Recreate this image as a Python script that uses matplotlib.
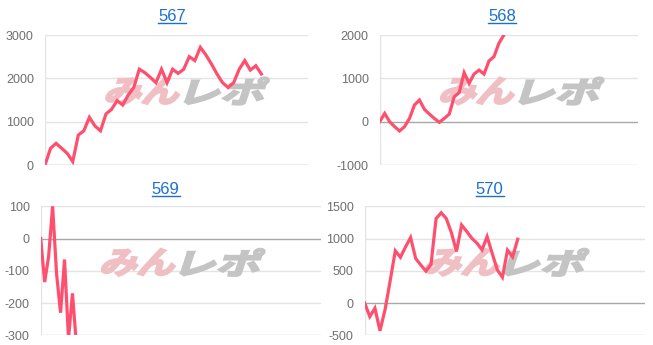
import numpy as np
import matplotlib
matplotlib.use("Agg")
import matplotlib.pyplot as plt
from matplotlib.textpath import TextPath
from matplotlib.font_manager import FontProperties
from matplotlib.patches import PathPatch
from matplotlib.transforms import Affine2D
from matplotlib.lines import Line2D

plt.rcParams['font.family'] = ['Liberation Sans', 'DejaVu Sans']

# ---- data (差枚推移) ----
titles = ['567', '568', '569', '570']

v567 = [0, 385, 500, 385, 270, 80, 690, 790, 1100, 900, 790, 1180, 1285, 1485,
        1385, 1615, 1790, 2210, 2130, 2020, 1900, 2210, 1900, 2210, 2115, 2210,
        2500, 2410, 2715, 2540, 2330, 2100, 1900, 1790, 1900, 2210, 2410, 2190,
        2290, 2100]
v568 = [0, 190, 0, -115, -215, -115, 75, 385, 500, 285, 175, 75, -15, 75, 175,
        575, 670, 1130, 885, 1100, 1190, 1100, 1400, 1500, 1810, 2000, 2250]
v569 = [0, -135, -55, 100, -110, -230, -65, -310, -170, -330]
v570 = [0, -210, -80, -430, -100, 350, 810, 710, 870, 1015, 690, 590, 495, 600,
        1310, 1400, 1310, 1090, 800, 1210, 1110, 1005, 930, 825, 1030, 770, 515,
        400, 820, 715, 990]
series = [v567, v568, v569, v570]

yticks = [[0, 1000, 2000, 3000],
          [-1000, 0, 1000, 2000],
          [-300, -200, -100, 0, 100],
          [-500, 0, 500, 1000, 1500]]
xmax = [47.4, 52.0, 70.5, 54.9]

# ---- layout (pixels) ----
W, H = 653, 345
boxes = [(45, 35, 263, 130), (379.7, 35, 258.3, 130),
         (40.7, 206.3, 280, 129), (364.7, 206.3, 280, 129)]
title_pos = [(172, 21), (502, 21), (165.7, 193.5), (489.7, 193.5)]

line_color = '#ff4f6e'
link_color = '#1a6fd0'

fig = plt.figure(figsize=(W / 100, H / 100), dpi=100)
pix = Affine2D().scale(1 / W, 1 / H) + fig.transFigure

fp = FontProperties(family='Noto Sans CJK JP', weight='bold')
wm_parts = [('みん', '#efbfc3', 0, 72), ('レポ', '#c4c4c4', 80, 77)]


def watermark(ax, left, top):
    for txt, col, dx, w in wm_parts:
        p = TextPath((0, 0), txt, size=1, prop=fp)
        ext = p.get_extents()
        sx = w / ext.width
        sy = 27 / ext.height
        tr = (Affine2D().translate(-ext.x0, -ext.y0).scale(sx, sy)
              .skew_deg(18, 0).translate(left + dx - 4, H - (top + 27.5)))
        ax.add_patch(PathPatch(p, transform=tr + pix, facecolor=col,
                               edgecolor=col, lw=1.6, joinstyle='miter',
                               zorder=1.5, clip_on=False))


for i in range(4):
    l, t, w, h = boxes[i]
    ax = fig.add_axes([l / W, (H - t - h) / H, w / W, h / H])
    vals = series[i]
    ax.plot(range(len(vals)), vals, color=line_color, lw=2.3, zorder=3,
            solid_joinstyle='miter')
    ax.set_xlim(0, xmax[i])
    ax.set_ylim(yticks[i][0], yticks[i][-1])
    for s in ax.spines.values():
        s.set_visible(False)
    for yv in yticks[i]:
        if yv == 0:
            c = '#a8a8a8'
        elif yv == yticks[i][0]:
            c = '#cccccc'
        else:
            c = '#e4e4e4'
        ax.axhline(yv, color=c, lw=1, zorder=1)
    ax.axvline(0, color='#e4e4e4', lw=1, zorder=1)
    ax.set_xticks([])
    ax.set_yticks(yticks[i])
    ax.set_yticklabels([str(v) for v in yticks[i]])
    ax.tick_params(axis='y', length=0, pad=8, labelsize=9, labelcolor='#707070')
    ax.patch.set_alpha(0)
    watermark(ax, l + 63, t + 42)

    cx, by = title_pos[i]
    fig.text(cx / W, (H - by) / H, titles[i], ha='center', va='baseline',
             fontsize=12, color=link_color)
    fig.add_artist(Line2D([(cx - 14) / W, (cx + 14) / W],
                          [(H - by - 2.2) / H] * 2, color=link_color, lw=1))

fig.savefig('out.png', dpi=100)
